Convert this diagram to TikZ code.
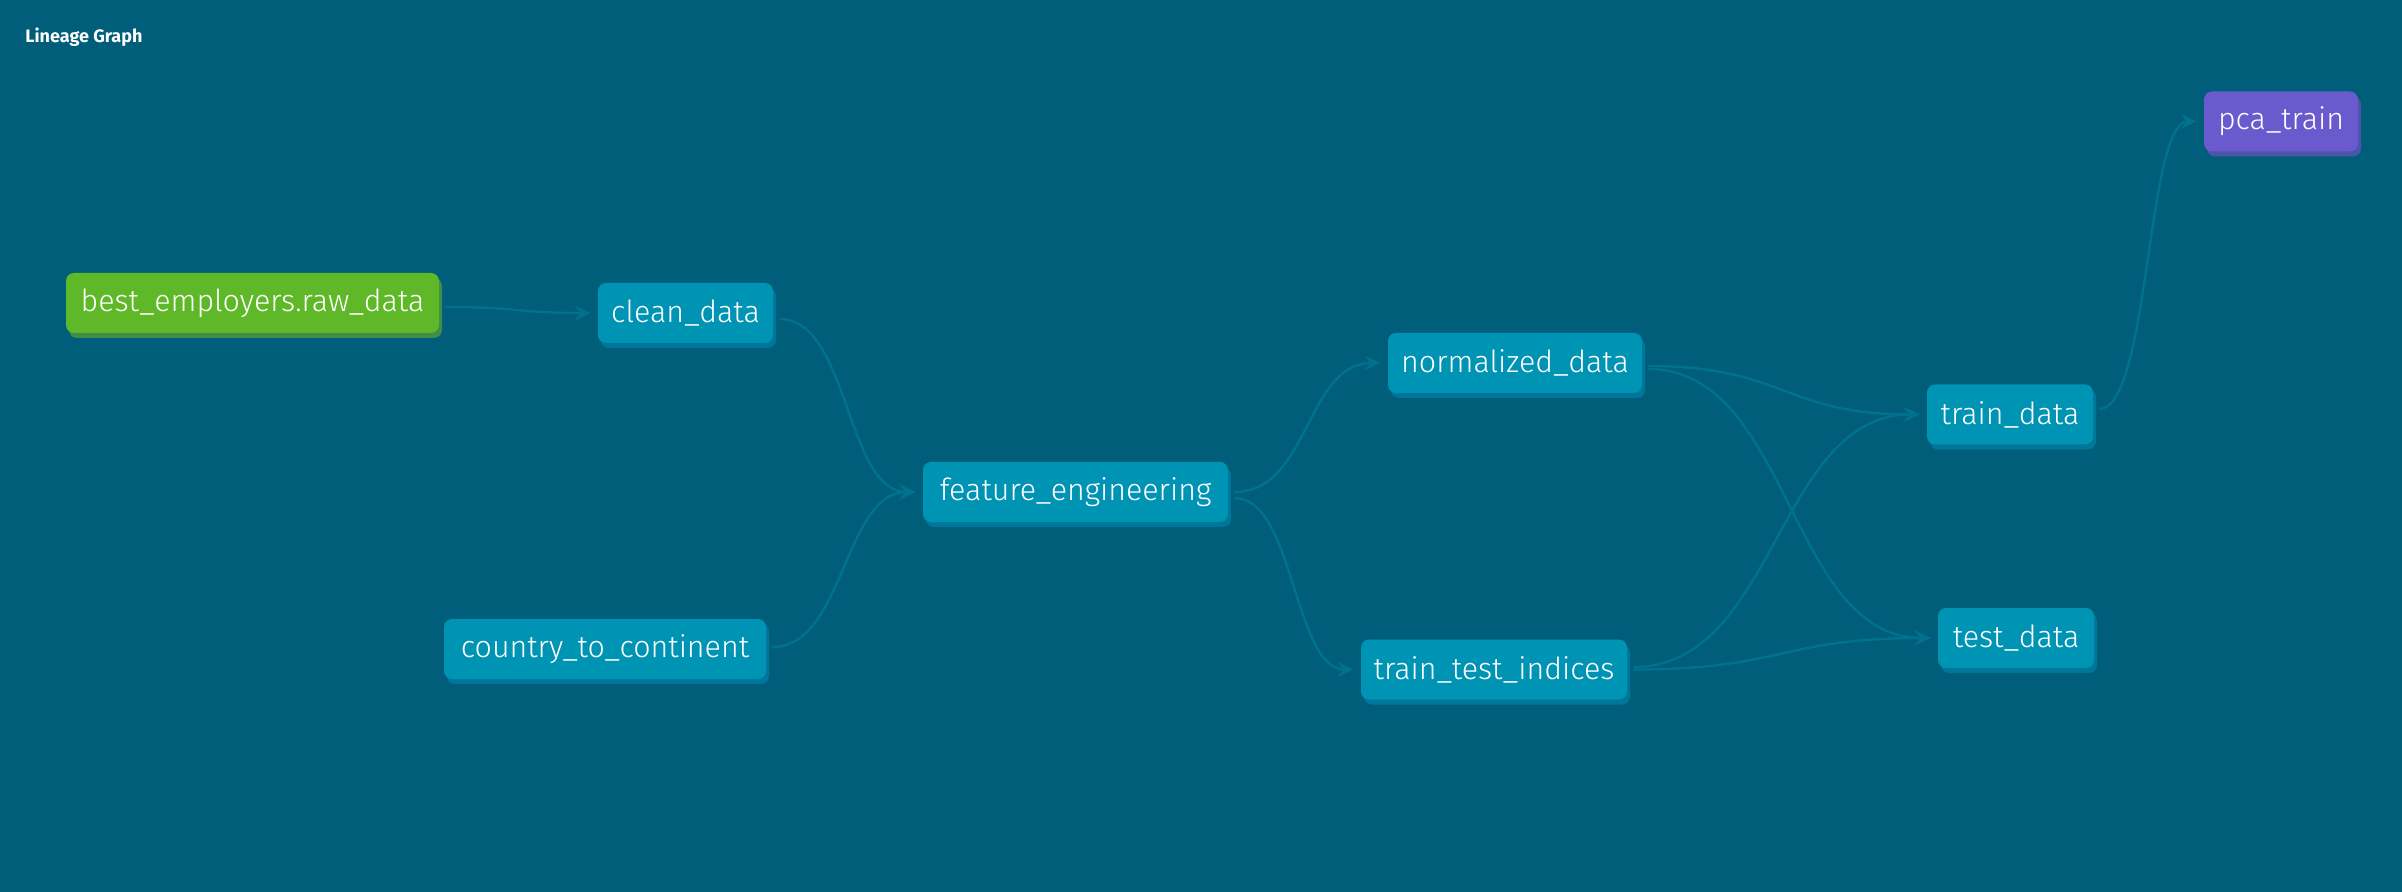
\documentclass[tikz,border=0pt]{standalone}
\usepackage{fontspec}
\setmainfont{Fira Sans}
\newfontfamily\lightfont{Fira Sans Light}
\usetikzlibrary{arrows.meta,shadows}
\definecolor{bgblue}{HTML}{005E7A}
\definecolor{modelblue}{HTML}{0094B4}
\definecolor{modelshadow}{HTML}{00779A}
\definecolor{srcgreen}{HTML}{5EB828}
\definecolor{srcshadow}{HTML}{3E8E4A}
\definecolor{mlpurple}{HTML}{6A5ACD}
\definecolor{mlshadow}{HTML}{4B55AA}
\definecolor{edgeblue}{HTML}{00718E}
\begin{document}
\begin{tikzpicture}[x=0.5pt,y=-0.5pt,
	box/.style 2 args={rounded corners=4pt,fill=#1,text=white,inner sep=0pt,minimum height=30pt,
		font=\lightfont\fontsize{15.2}{18}\selectfont,
		drop shadow={shadow xshift=1.5pt,shadow yshift=-2.5pt,fill=#2,opacity=1}},
	model/.style={box={modelblue}{modelshadow}},
	edge/.style={draw=edgeblue,line width=1.2pt,-{Stealth[length=8pt,width=7.5pt,inset=3pt]}}]
	\fill[bgblue] (0,0) rectangle (2402,892);
	\node[anchor=west,inner sep=0pt,text=white,font=\bfseries\fontsize{9}{11}\selectfont] (title) at (25,37) {Lineage Graph};
	% nodes
	\node[box={srcgreen}{srcshadow},minimum width=186.5pt] (raw) at (252.5,303) {best\_employers.raw\_data};
	\node[model,minimum width=87.5pt] (clean) at (685.5,313) {clean\_data};
	\node[model,minimum width=161pt] (country) at (605,649) {country\_to\_continent};
	\node[model,minimum width=152.5pt] (feature) at (1075.5,492) {feature\_engineering};
	\node[model,minimum width=127pt] (normalized) at (1515,363) {normalized\_data};
	\node[model,minimum width=133pt] (tti) at (1494,669.5) {train\_test\_indices};
	\node[model,minimum width=83pt] (train) at (2010,414.5) {train\_data};
	\node[model,minimum width=78pt] (test) at (2016,638) {test\_data};
	\node[box={mlpurple}{mlshadow},minimum width=77pt] (pca) at (2281,121.5) {pca\_train};
	% edges
	\foreach \a/\b/\d/\c in {raw/clean/-2/73,clean/feature/-3/70,country/feature/1/72,
		feature/normalized/0/75,feature/tti/-3/60,normalized/train/-1.5/136,normalized/test/-3/142,
		tti/train/1.25/143,tti/test/0/150,train/pca/2.75/50}
		\draw[edge] ([xshift=3pt,yshift=\d pt]\a.east) .. controls +(\c,0) and +(-\c,0) .. ([xshift=-3.5pt]\b.west);
\end{tikzpicture}
\end{document}
